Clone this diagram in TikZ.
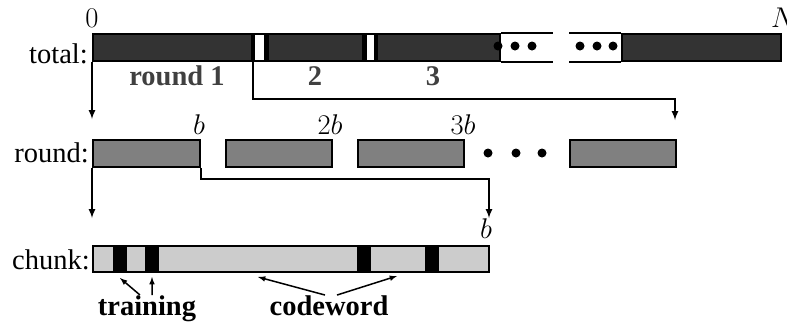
\RequirePackage{fix-cm}
\documentclass[tikz,border=0pt]{standalone}
\usepackage{fontspec}
\setmainfont{Liberation Serif}
\begin{document}
\begin{tikzpicture}
		[
		x=1bp, y=-1bp, font=\fontsize{28.5bp}{30bp}\selectfont, >=latex,
		%Voreinstellungen fuer Balken und Pfeile
		balken/.style={draw, line width=2.2bp, inner sep=0pt, anchor=north west, minimum height=27bp},
		dunkel/.style={balken, fill=black!80},
		luecke/.style={balken, fill=white},
		grau/.style={balken, fill=black!50},
		hell/.style={balken, fill=black!20, minimum height=26bp},
		pilot/.style={balken, fill=black, minimum height=26bp, minimum width=12bp},
		pfeil/.style={line width=2bp, ->},
		zahl/.style={inner sep=0pt, anchor=base},
		etikett/.style={inner sep=0pt, anchor=base east}
		]
		
		\useasboundingbox (0,0) rectangle (787,322);
		
		%Zeile total
		\node[etikett] (totallbl) at (88,63) {total:};
		\node[dunkel, minimum width=159bp] (t1) at (92,33) {};
		\node[luecke, minimum width=11bp] (g1) at (t1.north east) {};
		\node[dunkel, minimum width=96bp] (t2) at (g1.north east) {};
		\node[luecke, minimum width=9bp] (g2) at (t2.north east) {};
		\node[dunkel, minimum width=123bp] (t3) at (g2.north east) {};
		\node[dunkel, minimum width=159bp] (tn) at (621,33) {};
		
		%offene Enden mit Punkten
		\draw[line width=2.2bp] (t3.north east) -- ++(52,0) (t3.south east) -- ++(52,0);
		\draw[line width=2.2bp] (tn.north west) -- ++(-52,0) (tn.south west) -- ++(-52,0);
		\foreach \x in {498,515,532,580,597,613}
		\fill (\x,46) circle (4.5bp);
		
		%Beschriftung total
		\node[zahl] (null) at (92,27) {$0$};
		\node[inner sep=0pt, anchor=base west] (gesamt) at (771,27) {$N$};
		\node[zahl, text=black!75] (runde1) at (177,85) {\textbf{round 1}};
		\node[zahl, text=black!75] (runde2) at (315,85) {\textbf{2}};
		\node[zahl, text=black!75] (runde3) at (433,85) {\textbf{3}};
		
		%Pfeile total -> round
		\coordinate (roben) at (92,119);
		\coordinate (rnoben) at (675,120);
		\draw[pfeil] (t1.south west) -- (roben);
		\draw[pfeil] (t1.south east) -- ++(0,37) -| (rnoben);
		
		%Zeile round
		\node[etikett] (roundlbl) at (89,162) {round:};
		\node[grau, minimum width=107bp] (r1) at (92,139) {};
		\node[grau, minimum width=106bp] (r2) at (225,139) {};
		\node[grau, minimum width=106bp] (r3) at (357,139) {};
		\node[grau, minimum width=106bp] (rn) at (569,139) {};
		\foreach \x in {488,516,542}
		\fill (\x,153) circle (4.5bp);
		
		%Grenzen b, 2b, 3b
		\node[zahl] (b1) at (199,134) {$b$};
		\node[zahl] (b2) at (330,134) {$2b$};
		\node[zahl] (b3) at (463,134) {$3b$};
		
		%Pfeile round -> chunk
		\coordinate (coben) at (92,218);
		\coordinate (cende) at (489,218);
		\draw[pfeil] (r1.south west) -- (coben);
		\draw[pfeil] (r1.south east) -- ++(0,11) -| (cende);
		\node[zahl] (bc) at (486,238) {$b$};
		
		%Zeile chunk
		\node[etikett] (chunklbl) at (90,269) {chunk:};
		\node[hell, minimum width=396bp] (c) at (92,245) {};
		\foreach \x/\n in {113/p1,145/p2,357/p3,425/p4}
		\node[pilot] (\n) at (\x,245) {};
		
		%training und codeword
		\node[zahl] (training) at (147,315) {\textbf{training}};
		\node[zahl] (codeword) at (329,315) {\textbf{codeword}};
		\coordinate (tr1) at (120,278);
		\coordinate (tr2) at (152,277);
		\coordinate (cw1) at (258,277);
		\coordinate (cw2) at (397,276);
		\draw[pfeil, line width=1.5bp] ([xshift=-7bp]training.north) -- (tr1);
		\draw[pfeil, line width=1.5bp] ([xshift=5bp]training.north) -- (tr2);
		\draw[pfeil, line width=1.5bp] ([xshift=-4bp]codeword.north) -- (cw1);
		\draw[pfeil, line width=1.5bp] ([xshift=8bp]codeword.north) -- (cw2);
	\end{tikzpicture}
\end{document}
